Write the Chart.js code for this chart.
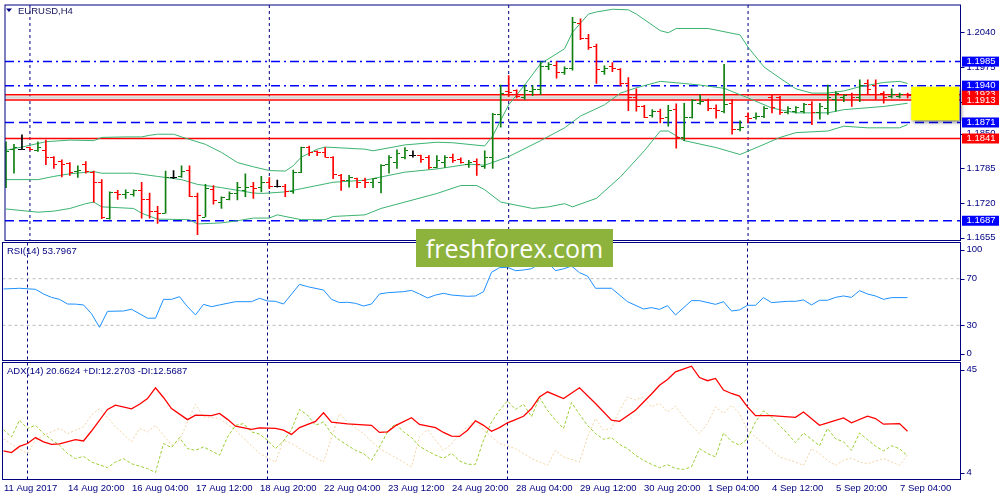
<!DOCTYPE html>
<html lang="en">
<head>
<meta charset="UTF-8">
<title>EURUSD,H4</title>
<script src="https://cdn.jsdelivr.net/npm/chart.js@4.4.1/dist/chart.umd.min.js"></script>
<style>
    body { margin: 0; background: #fff; }
    #wrap { position: relative; width: 1000px; height: 500px; overflow: hidden; background: #fff; }
    #wrap canvas { position: absolute; left: 0; top: 0; }
    .wm {
        position: absolute; left: 416px; top: 229px; width: 197px; height: 38px;
        background: #8db33d; color: #fff; text-align: center;
        font: 25px/38px 'Open Sans', sans-serif;
    }
</style>
</head>
<body>
<div id="wrap">
    <canvas id="mainChart" width="1000" height="500"></canvas>
    <canvas id="rsiChart" width="1000" height="500"></canvas>
    <canvas id="adxChart" width="1000" height="500"></canvas>
    <div class="wm">freshforex.com</div>
</div>
<script>
// ---- data ----
const opens = [1.1766,1.1820,1.1821,1.1824,1.1818,1.1818,1.1805,1.1798,1.1795,1.1780,
    1.1792,1.1778,1.1758,1.1692,1.1740,1.1737,1.1737,1.1743,1.1727,1.1705,
    1.1701,1.1768,1.1769,1.1781,1.1732,1.1694,1.1745,1.1721,1.1727,1.1738,
    1.1744,1.1752,1.1750,1.1759,1.1752,1.1752,1.1741,1.1778,1.1825,1.1816,
    1.1815,1.1806,1.1772,1.1763,1.1766,1.1763,1.1759,1.1758,1.1792,1.1796,
    1.1806,1.1809,1.1809,1.1806,1.1787,1.1796,1.1806,1.1802,1.1793,1.1798,
    1.1788,1.1805,1.1886,1.1929,1.1930,1.1917,1.1929,1.1933,1.1975,1.1978,
    1.1964,1.1973,1.2057,1.2028,1.2014,1.1967,1.1975,1.1970,1.1944,1.1917,
    1.1901,1.1884,1.1892,1.1880,1.1895,1.1842,1.1880,1.1907,1.1912,1.1897,
    1.1892,1.1906,1.1858,1.1883,1.1880,1.1883,1.1917,1.1917,1.1889,1.1892,
    1.1892,1.1904,1.1889,1.1898,1.1914,1.1917,1.1923,1.1917,1.1944,1.1941,
    1.1926,1.1920,1.1920,1.1923];
const highs = [1.1835,1.1830,1.1848,1.1825,1.1835,1.1838,1.1807,1.1801,1.1796,1.1790,
    1.1798,1.1780,1.1764,1.1741,1.1744,1.1745,1.1745,1.1759,1.1739,1.1714,
    1.1780,1.1781,1.1790,1.1790,1.1739,1.1755,1.1753,1.1732,1.1741,1.1759,
    1.1775,1.1759,1.1770,1.1768,1.1763,1.1755,1.1782,1.1825,1.1827,1.1818,
    1.1824,1.1807,1.1774,1.1772,1.1767,1.1767,1.1766,1.1792,1.1809,1.1820,
    1.1824,1.1818,1.1810,1.1809,1.1809,1.1809,1.1812,1.1805,1.1800,1.1803,
    1.1818,1.1888,1.1941,1.1959,1.1932,1.1941,1.1940,1.1985,1.1983,1.1985,
    1.1975,1.2068,1.2065,1.2036,1.2018,1.1977,1.1983,1.1972,1.1955,1.1934,
    1.1903,1.1895,1.1896,1.1903,1.1906,1.1907,1.1914,1.1923,1.1915,1.1904,
    1.1980,1.1914,1.1874,1.1889,1.1889,1.1901,1.1923,1.1920,1.1901,1.1901,
    1.1907,1.1910,1.1907,1.1941,1.1929,1.1923,1.1926,1.1951,1.1951,1.1951,
    1.1929,1.1934,1.1926,1.1926];
const lows = [1.1749,1.1776,1.1820,1.1819,1.1817,1.1792,1.1785,1.1769,1.1772,1.1768,
    1.1776,1.1722,1.1691,1.1690,1.1727,1.1729,1.1733,1.1692,1.1692,1.1682,
    1.1701,1.1766,1.1768,1.1732,1.1661,1.1694,1.1718,1.1710,1.1726,1.1726,
    1.1732,1.1729,1.1741,1.1747,1.1750,1.1732,1.1738,1.1777,1.1809,1.1809,
    1.1806,1.1766,1.1744,1.1750,1.1749,1.1749,1.1749,1.1739,1.1776,1.1785,
    1.1803,1.1806,1.1796,1.1784,1.1786,1.1787,1.1796,1.1795,1.1787,1.1772,
    1.1785,1.1785,1.1862,1.1920,1.1917,1.1914,1.1921,1.1923,1.1970,1.1954,
    1.1961,1.1969,1.2026,1.2008,1.1944,1.1961,1.1966,1.1940,1.1893,1.1892,
    1.1880,1.1881,1.1870,1.1864,1.1823,1.1837,1.1879,1.1905,1.1893,1.1879,
    1.1889,1.1849,1.1855,1.1870,1.1877,1.1880,1.1889,1.1886,1.1887,1.1889,
    1.1889,1.1867,1.1877,1.1886,1.1892,1.1910,1.1901,1.1910,1.1923,1.1914,
    1.1907,1.1917,1.1917,1.1917];
const closes = [1.1817,1.1825,1.1821,1.1820,1.1824,1.1805,1.1793,1.1792,1.1778,1.1782,
    1.1779,1.1758,1.1693,1.1740,1.1737,1.1739,1.1744,1.1727,1.1705,1.1701,
    1.1768,1.1768,1.1780,1.1733,1.1696,1.1747,1.1724,1.1730,1.1738,1.1749,
    1.1749,1.1748,1.1759,1.1752,1.1752,1.1741,1.1778,1.1824,1.1814,1.1814,
    1.1806,1.1773,1.1763,1.1768,1.1759,1.1759,1.1766,1.1790,1.1806,1.1812,
    1.1818,1.1809,1.1801,1.1786,1.1800,1.1806,1.1800,1.1797,1.1796,1.1793,
    1.1805,1.1886,1.1925,1.1927,1.1920,1.1931,1.1933,1.1975,1.1979,1.1964,
    1.1973,1.2059,1.2028,1.2012,1.1971,1.1973,1.1972,1.1944,1.1917,1.1901,
    1.1881,1.1892,1.1879,1.1894,1.1842,1.1880,1.1912,1.1910,1.1898,1.1893,
    1.1905,1.1858,1.1861,1.1879,1.1883,1.1898,1.1899,1.1889,1.1898,1.1899,
    1.1904,1.1889,1.1901,1.1917,1.1926,1.1921,1.1917,1.1941,1.1933,1.1923,
    1.1917,1.1923,1.1923,1.1921];

// Bollinger bands, sampled [bar, price]
const bbUpper = [[0,1.1819],[2,1.1825],[5,1.1835],[8,1.1838],[11,1.1837],[12,1.1843],[15,1.1844],[17,1.1844],[18,1.1847],[19,1.1849],[21,1.1849],[22,1.1844],[25,1.1830],[27,1.1815],[29,1.1796],[31,1.1788],[33,1.1781],[35,1.1780],[36,1.1790],[37,1.1806],[39,1.1821],[40,1.1825],[45,1.1821],[46,1.1818],[50,1.1829],[54,1.1834],[56,1.1833],[60,1.1827],[61,1.1846],[63,1.1904],[65,1.1941],[67,1.1981],[70,1.2009],[71,1.2040],[73,1.2074],[74,1.2078],[76,1.2083],[78,1.2082],[79,1.2074],[82,1.2043],[83,1.2039],[84,1.2047],[88,1.2047],[92,1.2035],[93,1.2012],[95,1.1975],[97,1.1954],[99,1.1934],[101,1.1926],[103,1.1926],[105,1.1930],[107,1.1938],[110,1.1946],[112,1.1948],[113,1.1944]];
const bbMiddle = [[0,1.1764],[4,1.1764],[6,1.1770],[8,1.1775],[11,1.1779],[12,1.1776],[16,1.1776],[19,1.1770],[20,1.1768],[22,1.1764],[24,1.1755],[27,1.1749],[29,1.1744],[31,1.1739],[32,1.1738],[35,1.1741],[37,1.1747],[41,1.1759],[45,1.1763],[47,1.1769],[50,1.1778],[54,1.1784],[58,1.1793],[60,1.1791],[63,1.1807],[67,1.1837],[70,1.1861],[72,1.1883],[75,1.1904],[77,1.1926],[79,1.1936],[82,1.1948],[85,1.1944],[87,1.1941],[90,1.1935],[93,1.1917],[96,1.1898],[99,1.1889],[103,1.1889],[105,1.1895],[110,1.1901],[113,1.1907]];
const bbLower = [[0,1.1709],[4,1.1703],[6,1.1705],[8,1.1710],[10,1.1719],[11,1.1722],[12,1.1713],[16,1.1710],[17,1.1701],[19,1.1690],[23,1.1689],[24,1.1681],[27,1.1683],[29,1.1687],[31,1.1692],[33,1.1692],[34,1.1698],[37,1.1689],[40,1.1689],[41,1.1695],[45,1.1698],[47,1.1710],[50,1.1722],[54,1.1738],[57,1.1753],[59,1.1753],[60,1.1745],[62,1.1722],[63,1.1719],[66,1.1710],[68,1.1713],[70,1.1719],[71,1.1713],[74,1.1729],[77,1.1769],[80,1.1818],[82,1.1855],[83,1.1855],[85,1.1837],[89,1.1824],[92,1.1811],[95,1.1830],[97,1.1843],[99,1.1852],[103,1.1855],[105,1.1864],[108,1.1861],[112,1.1861],[113,1.1867]];

// RSI(14) and ADX(14), sampled [bar, value]
const rsiValues = [[0,61.2],[2,61.8],[4,60.9],[5,56.9],[6,54.0],[7,52.3],[8,48.3],[9,48.2],[10,47.5],[11,40.0],[12,28.3],[13,42.0],[15,42.3],[16,43.8],[18,36.1],[19,36.1],[20,52.3],[21,52.3],[22,54.6],[23,46.0],[24,38.9],[25,48.0],[26,46.0],[27,47.5],[29,50.3],[31,50.3],[32,53.2],[33,50.9],[34,50.6],[35,48.3],[37,65.2],[38,63.2],[40,60.3],[41,52.3],[42,49.5],[43,49.8],[44,48.9],[45,46.6],[46,48.3],[47,56.9],[48,58.0],[50,58.9],[51,60.0],[52,56.9],[53,53.5],[54,56.0],[55,57.5],[56,56.0],[58,54.9],[59,55.2],[60,58.9],[61,75.5],[62,79.5],[63,79.8],[64,76.9],[65,77.5],[66,78.6],[67,83.2],[68,84.0],[69,76.9],[70,78.5],[71,80.9],[72,75.2],[73,72.3],[74,61.8],[76,61.8],[78,50.3],[80,44.0],[81,45.2],[82,43.7],[83,46.9],[84,38.9],[86,51.2],[87,51.2],[89,48.0],[90,50.3],[91,42.3],[92,43.2],[93,47.2],[94,47.2],[95,53.8],[96,49.5],[98,50.6],[99,50.6],[100,51.8],[101,47.5],[102,51.5],[103,51.5],[104,54.0],[105,55.2],[106,54.0],[107,59.8],[108,56.9],[109,55.2],[110,52.3],[111,53.8],[113,53.8]];
const adxValues = [[0,14.0],[1,13.4],[2,15.6],[3,16.6],[4,18.7],[5,17.2],[6,16.3],[7,16.5],[9,18.0],[10,17.5],[11,21.0],[13,28.6],[14,30.1],[16,28.8],[17,30.4],[18,32.4],[19,36.2],[20,32.8],[21,28.9],[23,25.0],[24,26.6],[26,26.4],[27,27.2],[28,25.1],[29,22.7],[31,21.6],[32,22.1],[34,21.9],[35,21.3],[36,19.8],[37,22.2],[39,24.4],[40,27.4],[41,24.1],[43,23.5],[46,23.0],[47,20.5],[48,20.7],[49,22.9],[51,25.7],[52,23.3],[54,22.2],[55,20.5],[56,19.2],[57,19.1],[58,21.3],[59,24.6],[60,23.0],[61,20.9],[62,22.2],[63,23.9],[64,25.0],[65,26.2],[66,28.9],[67,33.0],[68,34.8],[70,32.4],[72,36.2],[74,30.7],[76,24.8],[77,24.4],[79,28.3],[81,34.0],[82,37.1],[83,39.1],[84,41.8],[86,43.8],[87,39.8],[88,38.7],[89,39.5],[90,35.4],[91,34.2],[92,33.3],[93,29.5],[94,26.4],[96,26.4],[99,25.8],[100,27.7],[102,23.0],[103,23.9],[105,25.6],[106,23.9],[108,26.2],[109,25.4],[110,23.4],[112,23.6],[113,20.9]];
const plusDI = [[0,21.5],[1,18.9],[2,24.8],[3,21.9],[4,23.0],[5,20.1],[6,18.0],[7,16.0],[8,13.1],[9,11.3],[10,12.1],[11,10.1],[13,8.1],[14,10.1],[15,11.3],[16,9.5],[18,7.8],[19,6.4],[20,16.6],[21,15.2],[22,18.7],[23,14.8],[24,14.2],[25,15.4],[26,14.0],[27,12.5],[28,18.9],[29,23.0],[30,23.6],[31,20.7],[32,19.9],[33,17.8],[34,14.8],[35,17.5],[36,21.5],[37,28.6],[38,26.6],[39,23.0],[40,24.2],[41,20.1],[42,17.8],[44,14.2],[45,13.1],[46,10.7],[47,15.4],[48,20.7],[49,23.6],[50,20.7],[51,18.7],[52,15.6],[53,14.0],[54,12.5],[55,11.4],[56,13.2],[57,10.5],[58,9.3],[59,9.3],[60,17.8],[61,24.2],[62,28.3],[63,31.6],[64,28.6],[65,30.4],[66,26.0],[67,32.8],[68,28.3],[69,24.8],[70,21.9],[71,31.0],[72,26.9],[73,23.0],[74,20.1],[75,18.1],[76,18.7],[77,16.3],[78,14.8],[79,12.5],[80,10.7],[81,9.3],[82,8.1],[83,9.2],[84,7.8],[85,7.5],[86,8.4],[87,14.8],[88,13.1],[89,11.9],[90,20.3],[91,17.4],[92,16.0],[93,18.3],[94,24.2],[95,28.1],[96,26.0],[97,23.0],[98,20.1],[99,16.9],[100,20.3],[101,18.1],[102,15.8],[103,21.9],[104,18.3],[105,17.2],[106,14.2],[107,20.3],[108,18.0],[109,15.7],[110,14.0],[111,15.8],[112,14.8],[113,12.3]];
const minusDI = [[0,18.3],[1,16.3],[3,13.1],[4,17.8],[5,19.5],[7,21.9],[8,20.1],[10,22.5],[11,26.6],[12,28.9],[14,22.5],[16,17.2],[17,21.9],[18,20.7],[19,23.0],[21,16.0],[22,17.8],[24,30.4],[25,26.0],[27,25.4],[29,21.3],[32,13.1],[34,10.1],[35,17.8],[36,16.6],[38,13.1],[40,10.1],[42,27.2],[43,24.2],[45,20.1],[47,14.8],[50,10.1],[51,8.4],[52,19.0],[53,21.5],[54,17.8],[55,14.2],[56,16.5],[57,20.0],[58,22.5],[59,24.8],[60,21.3],[62,16.6],[64,14.8],[65,13.1],[66,11.3],[67,10.1],[68,8.9],[69,14.2],[70,11.9],[72,10.1],[73,18.9],[74,25.4],[75,21.3],[76,21.9],[77,28.3],[78,33.0],[79,31.9],[80,33.0],[81,29.5],[82,30.7],[83,27.7],[84,29.7],[85,26.0],[86,23.0],[87,20.1],[88,23.6],[89,29.5],[90,27.2],[91,30.1],[92,27.2],[93,21.3],[94,18.9],[95,16.6],[96,14.2],[97,11.9],[99,10.1],[100,8.9],[101,14.8],[102,13.1],[103,10.7],[104,8.9],[105,10.7],[106,11.5],[107,10.1],[108,9.5],[110,11.3],[111,10.1],[112,8.9],[113,12.6]];

// horizontal levels and axis ticks
const blueLevels = [1.1985, 1.1940, 1.1871, 1.1687];
const redLevels = [1.1923, 1.1913, 1.1841];
const bidLevel = 1.1918;
const priceTicks = [1.2040, 1.1975, 1.1910, 1.1850, 1.1785, 1.1720, 1.1655];
const rsiTicks = [100, 70, 30, 0];
const rsiLevels = [70, 30];
const adxTicks = [45, 4];

// time axis: a label every 8 bars, week separators
const timeLabels = ['11 Aug 2017', '14 Aug 20:00', '16 Aug 04:00', '17 Aug 12:00', '18 Aug 20:00',
    '22 Aug 04:00', '23 Aug 12:00', '24 Aug 20:00', '28 Aug 04:00', '29 Aug 12:00',
    '30 Aug 20:00', '1 Sep 04:00', '4 Sep 12:00', '5 Sep 20:00', '7 Sep 04:00'];
const labelStep = 8;
const weekStarts = [3, 33, 63, 93];

// the yellow zone drawn right of the last bar
const zone = { from: 113.45, to: 119.45, high: 1.1938, low: 1.1875 };

// ---- drawing ----
const X_MIN = -0.125, X_MAX = 119.625;
const NAVY = '#000080';
const UP = '#0f800f', DOWN = '#ff0000', FLAT = '#000000';
const FONT = '9.5px "Liberation Sans", Arial, sans-serif';

function barColor(i) {
    if (closes[i] > opens[i]) return UP;
    if (closes[i] < opens[i]) return DOWN;
    return FLAT;
}

// small tick images: open to the left of the bar, close to the right
function tickImage(color, side) {
    const c = document.createElement('canvas');
    c.width = 7; c.height = 1;
    const g = c.getContext('2d');
    g.fillStyle = color;
    g.fillRect(side === 'open' ? 0 : 4, 0, 3, 1);
    return c;
}
const openTicks = {}, closeTicks = {};
[UP, DOWN, FLAT].forEach(c => { openTicks[c] = tickImage(c, 'open'); closeTicks[c] = tickImage(c, 'close'); });

const pairLine = (pairs, color, width, dash, order) => ({
    type: 'line',
    data: pairs.map(([x, y]) => ({ x, y })),
    borderColor: color, borderWidth: width, borderDash: dash || [],
    pointRadius: 0, tension: 0, order
});
const hLine = (v, color, width, dash, order) => pairLine([[X_MIN, v], [X_MAX, v]], color, width, dash, order);

function baseOptions(padding, yMin, yMax) {
    return {
        responsive: false,
        animation: false,
        events: [],
        layout: { padding },
        plugins: { legend: { display: false }, tooltip: { enabled: false } },
        scales: {
            x: { type: 'linear', display: false, offset: false, min: X_MIN, max: X_MAX },
            y: { type: 'linear', display: false, min: yMin, max: yMax }
        }
    };
}

function drawWeekLines(chart) {
    const { ctx, chartArea: a, scales: { x } } = chart;
    ctx.save();
    ctx.strokeStyle = NAVY;
    ctx.lineWidth = 1;
    ctx.setLineDash([3, 3]);
    weekStarts.forEach(i => {
        const px = x.getPixelForValue(i);
        ctx.beginPath();
        ctx.moveTo(px, a.top);
        ctx.lineTo(px, a.bottom);
        ctx.stroke();
    });
    ctx.restore();
}

function drawFrame(chart) {
    const { ctx, chartArea: a } = chart;
    ctx.save();
    ctx.strokeStyle = NAVY;
    ctx.lineWidth = 1;
    ctx.strokeRect(a.left, a.top, a.right - a.left, a.bottom - a.top);
    ctx.restore();
}

function axisText(chart, text, y) {
    const { ctx, chartArea: a } = chart;
    ctx.save();
    ctx.strokeStyle = NAVY;
    ctx.beginPath();
    ctx.moveTo(a.right, Math.round(y) + 0.5);
    ctx.lineTo(a.right + 4, Math.round(y) + 0.5);
    ctx.stroke();
    ctx.font = FONT;
    ctx.fillStyle = NAVY;
    ctx.textAlign = 'left';
    ctx.textBaseline = 'middle';
    ctx.fillText(text, a.right + 6, y);
    ctx.restore();
}

function axisBox(chart, value, color) {
    const { ctx, chartArea: a, scales: { y } } = chart;
    const py = y.getPixelForValue(value);
    ctx.save();
    ctx.fillStyle = color;
    ctx.fillRect(a.right + 1.5, py - 5, 37, 10);
    ctx.font = FONT;
    ctx.fillStyle = '#ffffff';
    ctx.textAlign = 'left';
    ctx.textBaseline = 'middle';
    ctx.fillText(value.toFixed(4), a.right + 6, py);
    ctx.restore();
}

function panelLabel(chart, text) {
    const { ctx, chartArea: a } = chart;
    ctx.save();
    ctx.font = FONT;
    ctx.fillStyle = NAVY;
    ctx.textBaseline = 'middle';
    ctx.fillText(text, a.left + 4.5, a.top + 9);
    ctx.restore();
}

function edgeTicks(chart, ticks) {
    const { chartArea: a, scales: { y } } = chart;
    ticks.forEach(v => {
        const py = Math.min(Math.max(y.getPixelForValue(v), a.top + 7), a.bottom - 7);
        axisText(chart, String(v), py);
    });
}

// ---- main price panel ----
const mainDecor = {
    id: 'mainDecor',
    beforeDatasetsDraw(chart) { drawWeekLines(chart); },
    afterDatasetsDraw(chart) {
        const { ctx, scales: { x, y } } = chart;
        const x1 = x.getPixelForValue(zone.from), x2 = x.getPixelForValue(zone.to);
        const y1 = y.getPixelForValue(zone.high), y2 = y.getPixelForValue(zone.low);
        ctx.save();
        ctx.shadowColor = 'rgba(0,0,0,0.55)';
        ctx.shadowBlur = 4;
        ctx.shadowOffsetX = 2;
        ctx.shadowOffsetY = 2;
        ctx.fillStyle = '#ffff00';
        ctx.fillRect(x1, y1, x2 - x1, y2 - y1);
        ctx.restore();
    },
    afterDraw(chart) {
        const { ctx, scales: { y } } = chart;
        drawFrame(chart);
        priceTicks.forEach(v => axisText(chart, v.toFixed(4), y.getPixelForValue(v)));
        axisBox(chart, redLevels[0], '#ff0000');
        blueLevels.forEach(v => axisBox(chart, v, '#0000ff'));
        redLevels.slice(1).forEach(v => axisBox(chart, v, '#ff0000'));
        // symbol title with the little drop-down triangle
        ctx.save();
        ctx.fillStyle = NAVY;
        ctx.beginPath();
        ctx.moveTo(6, 8.5); ctx.lineTo(12, 8.5); ctx.lineTo(9, 12);
        ctx.closePath();
        ctx.fill();
        ctx.font = FONT;
        ctx.fillStyle = '#14145a';
        ctx.textBaseline = 'middle';
        ctx.fillText('EURUSD,H4', 18, 11);
        ctx.restore();
    }
};

const mainDatasets = [];
blueLevels.forEach((v, k) => mainDatasets.push(hLine(v, '#0000ff', 1.5, k < 2 ? [9, 4, 2, 4] : [9, 5], 9)));
mainDatasets.push(hLine(bidLevel, '#d6d6d6', 2.5, [], 9));
redLevels.forEach(v => mainDatasets.push(hLine(v, '#ff0000', 1.4, [], 8)));
[bbUpper, bbMiddle, bbLower].forEach(b => mainDatasets.push(pairLine(b, '#3cb371', 1, [], 5)));
mainDatasets.push({
    type: 'bar',
    data: highs.map((h, i) => ({ x: i, y: [lows[i], h] })),
    backgroundColor: highs.map((_, i) => barColor(i)),
    barThickness: 1,
    borderWidth: 0,
    grouped: false,
    order: 3
});
mainDatasets.push({
    type: 'line', showLine: false,
    data: opens.map((o, i) => ({ x: i, y: o })),
    pointStyle: c => openTicks[barColor(c.dataIndex)],
    pointRadius: 1, order: 2
});
mainDatasets.push({
    type: 'line', showLine: false,
    data: closes.map((c, i) => ({ x: i, y: c })),
    pointStyle: c => closeTicks[barColor(c.dataIndex)],
    pointRadius: 1, order: 2
});

new Chart(document.getElementById('mainChart'), {
    type: 'line',
    data: { datasets: mainDatasets },
    options: baseOptions({ left: 2.5, top: 2.5, right: 39.5, bottom: 259.5 }, 1.1650, 1.2091),
    plugins: [mainDecor]
});

// ---- RSI panel ----
const rsiDecor = {
    id: 'rsiDecor',
    beforeDatasetsDraw(chart) { drawWeekLines(chart); },
    afterDraw(chart) {
        drawFrame(chart);
        edgeTicks(chart, rsiTicks);
        panelLabel(chart, 'RSI(14) 53.7967');
    }
};
new Chart(document.getElementById('rsiChart'), {
    type: 'line',
    data: {
        datasets: [
            ...rsiLevels.map(v => hLine(v, '#bdbdbd', 1, [3, 3], 5)),
            pairLine(rsiValues, '#1e90ff', 1, [], 1)
        ]
    },
    options: baseOptions({ left: 2.5, top: 242.5, right: 39.5, bottom: 139.5 }, -0.2, 101.1),
    plugins: [rsiDecor]
});

// ---- ADX panel ----
const adxDecor = {
    id: 'adxDecor',
    beforeDatasetsDraw(chart) { drawWeekLines(chart); },
    afterDraw(chart) {
        const { ctx, scales: { x } } = chart;
        drawFrame(chart);
        edgeTicks(chart, adxTicks);
        panelLabel(chart, 'ADX(14) 20.6624 +DI:12.2703 -DI:12.5687');
        ctx.save();
        ctx.font = FONT;
        ctx.fillStyle = NAVY;
        ctx.textBaseline = 'middle';
        timeLabels.forEach((t, k) => ctx.fillText(t, x.getPixelForValue(k * labelStep) + 0.5, 488));
        ctx.restore();
    }
};
new Chart(document.getElementById('adxChart'), {
    type: 'line',
    data: {
        datasets: [
            pairLine(minusDI, '#f2d3a4', 1, [2, 2], 4),
            pairLine(plusDI, '#9acd32', 1, [3, 2], 3),
            pairLine(adxValues, '#ff0000', 1.3, [], 1)
        ]
    },
    options: baseOptions({ left: 2.5, top: 362.5, right: 39.5, bottom: 20.5 }, 3.95, 45.1),
    plugins: [adxDecor]
});
</script>
</body>
</html>
